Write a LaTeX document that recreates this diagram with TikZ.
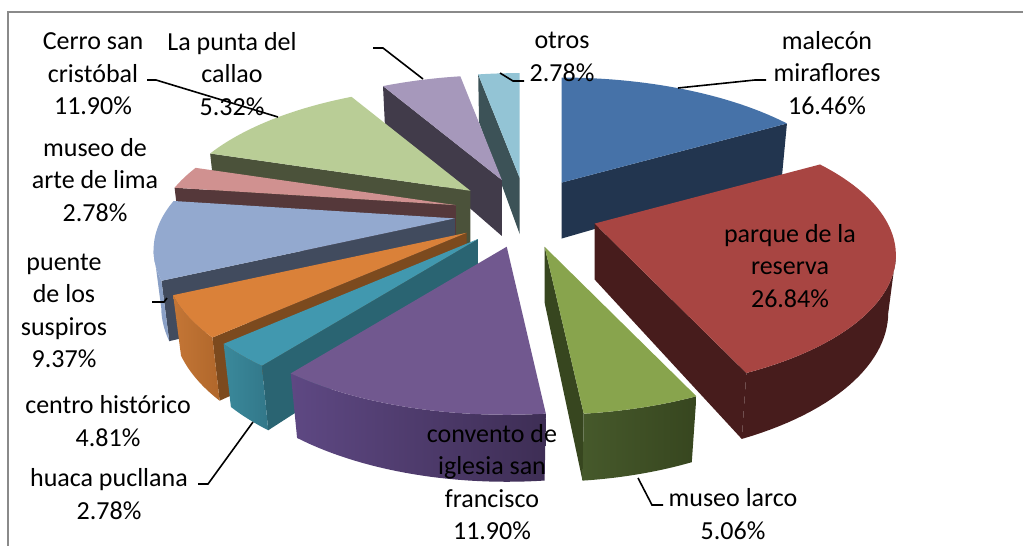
\documentclass[tikz,border=0pt]{standalone}
\usepackage{fontspec}
\setmainfont{Carlito}
\definecolor{frameC}{HTML}{8A8A8A}
\definecolor{maleT}{HTML}{4672A8}\definecolor{maleC}{HTML}{22354F}
\definecolor{resT}{HTML}{A84542}\definecolor{resC}{HTML}{471C1C}
\definecolor{larT}{HTML}{88A44D}\definecolor{larC}{HTML}{37461F}\definecolor{larL}{HTML}{46592B}
\definecolor{conT}{HTML}{71588F}\definecolor{conL}{HTML}{5E4883}\definecolor{conR}{HTML}{3E2E55}
\definecolor{huaT}{HTML}{4198AF}\definecolor{huaL}{HTML}{3A899B}\definecolor{huaR}{HTML}{327789}\definecolor{huaC}{HTML}{2A6472}
\definecolor{cenT}{HTML}{DA8139}\definecolor{cenL}{HTML}{C47636}\definecolor{cenR}{HTML}{B0672B}\definecolor{cenC}{HTML}{7C4A1E}
\definecolor{punT}{HTML}{93A9CF}\definecolor{punS}{HTML}{8AA0C6}\definecolor{punC}{HTML}{414B5E}
\definecolor{artT}{HTML}{D09190}\definecolor{artC}{HTML}{55383A}
\definecolor{cerT}{HTML}{B9CD96}\definecolor{cerC}{HTML}{4B523A}
\definecolor{calT}{HTML}{A698BB}\definecolor{calC}{HTML}{413B4A}
\definecolor{otrT}{HTML}{93C4D5}\definecolor{otrC}{HTML}{3C5257}
\newcommand\pieApex[1]{\pgfmathsetmacro\ax{526+72*sin(#1)}\pgfmathsetmacro\ay{213-35*cos(#1)}}
\newcommand\pieCut[2]{\fill[#2] ({\ax},{\ay}) -- ({\ax+pxx(1,#1,0)},{\ay-pyy(1,#1,0)}) -- ({\ax+pxx(1,#1,-0.218)},{\ay-pyy(1,#1,-0.218)}) -- ({\ax},{\ay-pyy(0,0,-0.218)}) -- cycle;}
\newcommand\pieSide[3]{\path[#3] plot[domain=#1:#2,samples=30,variable=\t] ({\ax+pxx(1,\t,0)},{\ay-pyy(1,\t,0)}) -- plot[domain=#2:#1,samples=30,variable=\t] ({\ax+pxx(1,\t,-0.218)},{\ay-pyy(1,\t,-0.218)}) -- cycle;}
\newcommand\pieTop[3]{\fill[#3] ({\ax},{\ay}) -- plot[domain=#1:#2,samples=50,variable=\t] ({\ax+pxx(1,\t,0)},{\ay-pyy(1,\t,0)}) -- cycle;}
\begin{document}
\begin{tikzpicture}[x=1pt,y=-1pt,
  declare function={
    pzz(\r,\s,\w)=3.889+\r*cos(\s)*0.8975-\w*0.441;
    pxx(\r,\s,\w)=1140*\r*sin(\s)/pzz(\r,\s,\w);
    pyy(\r,\s,\w)=1140*(\r*cos(\s)*0.441+\w*0.8975)/pzz(\r,\s,\w);
  },
  lbl/.style={font=\fontsize{26}{32.5}\selectfont, align=center, inner sep=0pt},
  leader/.style={draw=black, line width=1.6pt}]
\useasboundingbox (0,0) rectangle (1023,546);
\fill[white] (0,0) rectangle (1023,546);
\draw[frameC, line width=1.4pt] (8,546) -- (8,12) -- (1023,12);
% otros
\pieApex{354.99}
\pieCut{349.99}{otrC}
\pieTop{349.99}{360}{otrT}
% la punta del callao
\pieApex{340.42}
\pieCut{330.84}{calC}
\pieTop{330.84}{349.99}{calT}
% malecon miraflores
\pieApex{29.63}
\pieCut{59.26}{maleC}
\pieTop{0}{59.26}{maleT}
% cerro san cristobal
\pieApex{309.42}
\pieCut{288}{cerC}
\pieTop{288}{330.84}{cerT}
% museo de arte de lima
\pieApex{282.99}
\pieCut{277.99}{artC}
\pieTop{277.99}{288}{artT}
% puente de los suspiros
\pieApex{261.13}
\pieCut{244.26}{punC}
\pieSide{244.26}{256.7}{fill=punS}
\pieTop{244.26}{277.99}{punT}
% parque de la reserva
\pieApex{107.57}
\pieCut{155.88}{resC}
\pieSide{103.3}{155.88}{fill=resC}
\pieTop{59.26}{155.88}{resT}
% centro historico
\pieApex{235.60}
\pieCut{226.94}{cenC}
\pieSide{226.94}{244.26}{left color=cenL,right color=cenR}
\pieTop{226.94}{244.26}{cenT}
% huaca pucllana
\pieApex{221.94}
\pieCut{216.94}{huaC}
\pieSide{216.94}{226.94}{left color=huaL,right color=huaR}
\pieTop{216.94}{226.94}{huaT}
% convento
\pieApex{195.52}
\pieSide{174.10}{216.94}{left color=conL,right color=conR}
\pieTop{174.10}{216.94}{conT}
% museo larco
\pieApex{164.99}
\pieCut{174.10}{larC}
\pieSide{155.88}{174.10}{left color=larL,right color=larC}
\pieTop{155.88}{174.10}{larT}
% labels
\node[lbl] (lCerro) at (93,74) {Cerro san\\cristóbal\\11.90\%};
\node[lbl] (lPunta) at (232,74) {La punta del\\callao\\5.32\%};
\node[lbl] (lOtros) at (562,57) {otros\\2.78\%};
\node[lbl] (lMale) at (827,73) {malecón\\miraflores\\16.46\%};
\node[lbl] (lRes) at (790,266) {parque de la\\reserva\\26.84\%};
\node[lbl] (lLarco) at (733,514) {museo larco\\5.06\%};
\node[lbl] (lConv) at (492,482) {convento de\\iglesia san\\francisco\\11.90\%};
\node[lbl] (lHuaca) at (109,494) {huaca pucllana\\2.78\%};
\node[lbl] (lCentro) at (108,421) {centro histórico\\4.81\%};
\node[lbl] (lPuente) at (64,311) {puente\\de los\\suspiros\\9.37\%};
\node[lbl] (lArte) at (95,180) {museo de\\arte de lima\\2.78\%};
% leader lines
\coordinate (cA) at (147,80); \coordinate (cB) at (156,80); \coordinate (cC) at (278,117);
\coordinate (pA) at (373,48); \coordinate (pB) at (383,48); \coordinate (pC) at (423,79);
\coordinate (oA) at (524,81); \coordinate (oB) at (513,81); \coordinate (oC) at (500,73);
\coordinate (mA) at (766,80); \coordinate (mB) at (755,80); \coordinate (mC) at (678,88);
\coordinate (lA) at (663,505); \coordinate (lB) at (652,505); \coordinate (lC) at (638,478);
\coordinate (hA) at (198,484); \coordinate (hB) at (208,484); \coordinate (hC) at (253,422);
\coordinate (sA) at (152,302); \coordinate (sB) at (164,302); \coordinate (sC) at (167,298);
\draw[leader] (cA) -- (cB) -- (cC);
\draw[leader] (pA) -- (pB) -- (pC);
\draw[leader] (oA) -- (oB) -- (oC);
\draw[leader] (mA) -- (mB) -- (mC);
\draw[leader] (lA) -- (lB) -- (lC);
\draw[leader] (hA) -- (hB) -- (hC);
\draw[leader] (sA) -- (sB) -- (sC);
\end{tikzpicture}
\end{document}
